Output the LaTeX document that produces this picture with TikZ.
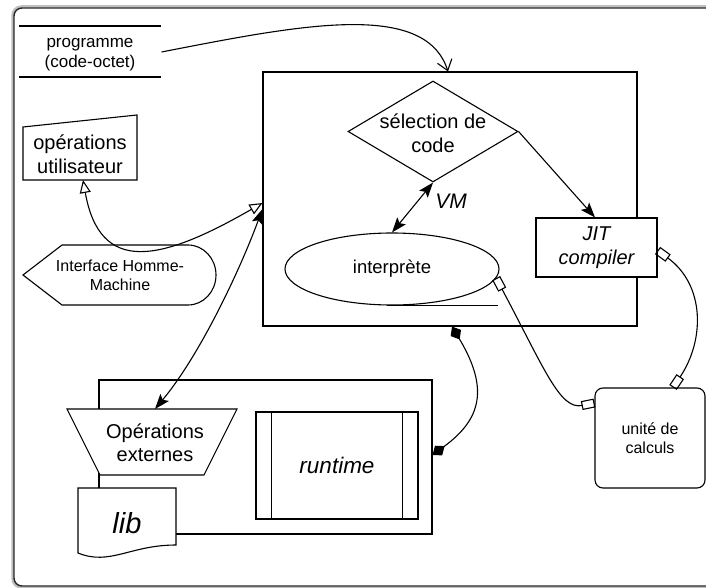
\documentclass[tikz,border=0pt]{standalone}
\usepackage{fontspec}
\setmainfont{Liberation Sans}
\usetikzlibrary{arrows.meta,shapes.geometric}
\begin{document}
\begin{tikzpicture}[x=1pt,y=-1pt,line width=1.1pt,
  every node/.style={inner sep=1pt,align=center},
  boxnode/.style={draw,fill=white,inner sep=0pt},
  dblstealth/.style={{Stealth[length=15pt,width=11pt,inset=3pt]}-{Stealth[length=15pt,width=11pt,inset=3pt]}},
  onestealth/.style={-{Stealth[length=15pt,width=11pt,inset=3pt]}},
  opentri/.style={{Triangle[open,length=13pt,width=11pt]}-{Triangle[open,length=13pt,width=11pt]}},
  dbldiamond/.style={{Diamond[length=15pt,width=12pt]}-{Diamond[length=15pt,width=12pt]}},
  dblrect/.style={{Rectangle[open,length=13pt,width=9pt]}-{Rectangle[open,length=13pt,width=9pt]}}]
\useasboundingbox (0,0) rectangle (706,588);
\clip (0,0) rectangle (706,588);
% window frame
\draw[black!25,line width=2.5pt,rounded corners=9] (720,6.5) -- (12.5,6.5) -- (12.5,587.5) -- (720,587.5);
\draw[black!85,line width=1.4pt,rounded corners=8] (720,8) -- (14,8) -- (14,586) -- (720,586);
% programme
\draw (19,26) -- (161,26);
\draw (19,77) -- (161,77);
\node[minimum width=142pt,font=\fontsize{17}{20}\selectfont] (prog) at (90,55) {programme\\(code-octet)};
% operations utilisateur
\draw[fill=white] (23,127) -- (137,115) -- (137,180) -- (23,180) -- cycle;
\node[font=\fontsize{20}{24}\selectfont] (opu) at (80,154.5) {opérations\\utilisateur};
\coordinate (opu-s) at (83,180);
% interface
\draw[fill=white] (23,275) -- (62,245) -- (188,245) arc[start angle=270,end angle=450,x radius=28,y radius=30] -- (62,305) -- cycle;
\node[font=\fontsize{16}{19}\selectfont] (ihm) at (120,275.5) {Interface Homme-\\Machine};
% VM
\node[boxnode,minimum width=374pt,minimum height=254pt] (vm) at (450,199) {};
\node[boxnode,diamond,minimum width=170pt,minimum height=101pt] (sel) at (433,131.5) {};
\node[font=\fontsize{20}{24}\selectfont] (seltxt) at (433,133) {sélection de\\code};
\node[boxnode,ellipse,minimum width=214pt,minimum height=72pt,font=\fontsize{18.5}{22}\selectfont] (interp) at (392,269) {interprète};
\draw ([xshift=-5pt]interp.south) -- ([xshift=106pt]interp.south);
\node[font=\fontsize{21}{25}\selectfont\itshape] (vmlbl) at (451,201) {VM};
\node[boxnode,minimum width=121pt,minimum height=59pt,font=\fontsize{20}{24}\selectfont\itshape] (jit) at (596.5,247.5) {JIT\\compiler};
% unite de calculs
\node[boxnode,rounded corners=8pt,minimum width=110pt,minimum height=100pt,font=\fontsize{16}{19}\selectfont] (calc) at (650,438) {unité de\\calculs};
% externes
\node[boxnode,minimum width=333pt,minimum height=154pt] (ext) at (265.5,457) {};
\draw[fill=white] (67,409) -- (237,409) -- (204,475) -- (100,475) -- cycle;
\node[font=\fontsize{20}{23}\selectfont] (opx) at (155,443) {Opérations\\externes};
\coordinate (opx-n) at (155,409);
\draw[fill=white] (78,488) -- (176,488) -- (176,545) .. controls (130,545) and (110,566) .. (78,553) -- cycle;
\node[font=\fontsize{29}{34}\selectfont\itshape] (lib) at (127,523) {lib};
\node[boxnode,minimum width=162pt,minimum height=107pt,font=\fontsize{22.5}{27}\selectfont\itshape] (rt) at (337,465.5) {runtime};
\draw ([xshift=16pt]rt.north west) -- ([xshift=16pt]rt.south west);
\draw ([xshift=-16pt]rt.north east) -- ([xshift=-16pt]rt.south east);
% connectors
\draw[-{Straight Barb[length=10pt,width=15pt]}] ([yshift=3pt]prog.east) .. controls (300,25) and (425,0) .. ([xshift=-2pt]vm.north);
\draw[opentri] (opu-s) .. controls (100,275) and (160,262) .. ([yshift=-4pt]vm.west);
\draw[dblstealth] (opx-n) .. controls (200,355) and (240,270) .. ([yshift=-10pt]vm.west);
\draw[dblstealth] (sel.south) -- (interp.north);
\draw[onestealth] (sel.east) -- ([xshift=-1.5pt]jit.north);
\draw[dbldiamond] ([xshift=2pt]vm.south) .. controls (490,390) and (480,420) .. ([yshift=2pt]ext.east);
\draw[dblrect] (interp.355) .. controls (545,370) and (560,410) .. ([yshift=35pt]calc.west);
\draw[dblrect] ([yshift=-3pt]jit.east) .. controls (705,285) and (705,340) .. ([xshift=23pt]calc.north);
\end{tikzpicture}
\end{document}
